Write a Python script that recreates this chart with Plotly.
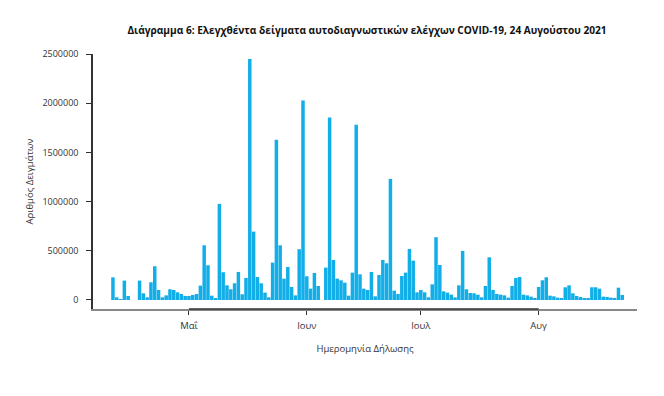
import datetime as dt
import plotly.graph_objects as go

start_date = "2021-04-11"
samples = [
    230000, 27000, 7000, 197000, 41000, 0, 0, 197000, 68000, 27000,
    180000, 343000, 102000, 27000, 47000, 109000, 102000, 78000, 61000, 41000,
    41000, 51000, 61000, 146000, 556000, 353000, 44000, 20000, 977000, 282000,
    149000, 109000, 170000, 285000, 58000, 224000, 2449000, 695000, 234000, 170000,
    75000, 27000, 380000, 1628000, 556000, 217000, 336000, 132000, 47000, 516000,
    2028000, 241000, 115000, 275000, 142000, 0, 329000, 1855000, 407000, 217000,
    200000, 176000, 44000, 278000, 1781000, 261000, 115000, 102000, 285000, 37000,
    254000, 407000, 373000, 1231000, 95000, 61000, 244000, 278000, 519000, 400000,
    78000, 102000, 78000, 27000, 159000, 638000, 356000, 88000, 75000, 54000,
    27000, 149000, 499000, 109000, 71000, 68000, 54000, 27000, 142000, 434000,
    102000, 61000, 54000, 47000, 24000, 142000, 224000, 234000, 54000, 47000,
    34000, 17000, 132000, 200000, 231000, 44000, 37000, 24000, 14000, 129000,
    149000, 68000, 41000, 31000, 20000, 14000, 129000, 129000, 115000, 34000,
    31000, 24000, 14000, 125000, 51000,
]
d0 = dt.date.fromisoformat(start_date)
dates = [(d0 + dt.timedelta(days=i)).isoformat() for i in range(len(samples))]

month_ticks = ["2021-05-01", "2021-06-01", "2021-07-01", "2021-08-01"]
month_labels = ["Μαΐ", "Ιουν", "Ιουλ", "Αυγ"]
y_ticks = [0, 500000, 1000000, 1500000, 2000000, 2500000]

title_text = "Διάγραμμα 6: Ελεγχθέντα δείγματα αυτοδιαγνωστικών ελέγχων COVID-19, 24 Αυγούστου 2021"

fig = go.Figure(
    go.Bar(x=dates, y=samples, marker=dict(color="#12aee8", line=dict(width=0)))
)

# page body has an 8px default margin, so the figure is 8px smaller than the window
W, H = 656, 388
fig.update_layout(
    width=W, height=H,
    margin=dict(l=85, r=27, t=46, b=87),
    paper_bgcolor="white", plot_bgcolor="white",
    bargap=0.08,
    showlegend=False,
    font=dict(family="Open Sans, DejaVu Sans, sans-serif", size=9, color="#333333"),
    title=dict(text="<b>" + title_text + "</b>", x=359 / W, xanchor="center",
               y=1 - 22 / H, yanchor="middle",
               font=dict(size=10.15, color="#111111")),
)

fig.update_xaxes(
    type="date",
    range=["2021-04-05 18:00", "2021-08-26 21:00"],
    tickvals=month_ticks, ticktext=month_labels,
    ticks="outside", ticklen=4, tickcolor="#333333", tickwidth=1,
    showline=True, linecolor="#888888", linewidth=1.5,
    showgrid=False, zeroline=False,
    ticklabelstandoff=3,
    tickfont=dict(size=9.5, color="#333333"),
    title=dict(text="Ημερομηνία Δήλωσης", font=dict(size=9.5, color="#333333"), standoff=14),
)
fig.update_yaxes(
    range=[-91600, 2500000],
    tickvals=y_ticks, tickformat="d",
    ticks="outside", ticklen=5, tickcolor="#333333", tickwidth=1,
    showline=True, linecolor="#333333", linewidth=1.5,
    showgrid=False, zeroline=False,
    ticklabelstandoff=6,
    tickfont=dict(size=9, color="#333333"),
    title=dict(text="Αριθμός Δειγμάτων", font=dict(size=9.5, color="#333333"), standoff=7),
)

fig.add_shape(type="line", xref="x", yref="paper",
              x0=month_ticks[0], x1=month_ticks[-1], y0=0, y1=0,
              line=dict(color="#333333", width=1.5))

fig.write_html("out.html")
